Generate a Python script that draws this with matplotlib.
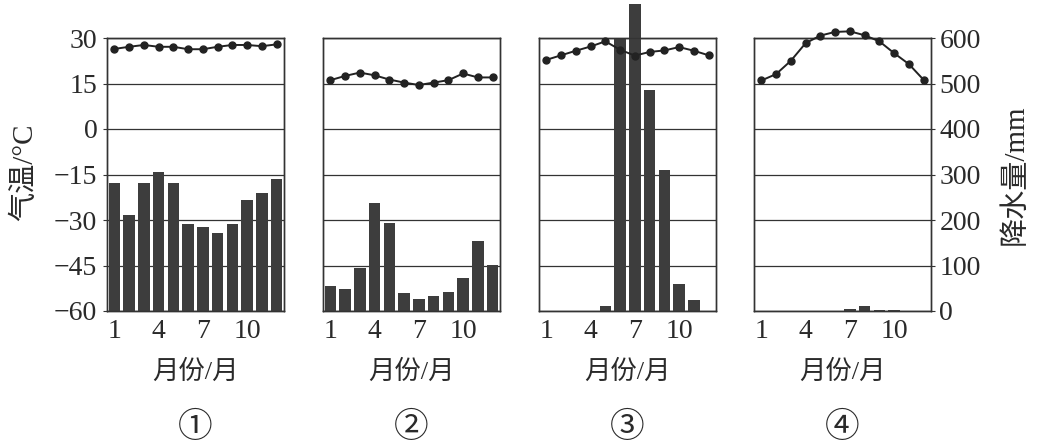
import matplotlib
matplotlib.use("Agg")
import matplotlib.pyplot as plt
import numpy as np

plt.rcParams['font.family'] = ['Liberation Serif', 'Noto Sans CJK SC', 'DejaVu Sans']

months = np.arange(1, 13)
xtick_vals = [1, 4, 7, 10]
temp_ticks = [30, 15, 0, -15, -30, -45, -60]
precip_ticks = [600, 500, 400, 300, 200, 100, 0]

temp_1 = [26.4, 27.1, 27.7, 27.1, 27.1, 26.3, 26.3, 27.1, 27.7, 27.7, 27.3, 27.9]
precip_1 = [282, 211, 282, 306, 282, 192, 185, 171, 192, 245, 259, 290]

temp_2 = [16.1, 17.5, 18.6, 17.7, 16.3, 15.3, 14.5, 15.3, 16.1, 18.3, 17.0, 17.0]
precip_2 = [56, 49, 94, 238, 194, 40, 27, 34, 41, 73, 153, 102]

temp_3 = [22.8, 24.3, 25.8, 27.2, 28.9, 26.1, 24.2, 25.4, 25.9, 27.0, 25.8, 24.3]
precip_3 = [0, 0, 0, 0, 11, 600, 675, 486, 310, 59, 24, 0]

temp_4 = [16.0, 18.1, 22.5, 28.3, 30.8, 32.0, 32.2, 30.9, 28.9, 25.0, 21.4, 16.2]
precip_4 = [0, 0, 0, 0, 0, 0, 5, 11, 3, 3, 0, 0]

panel_labels = ['①', '②', '③', '④']
xlabel = '月份/月'
ylabel_left = '气温/°C'
ylabel_right = '降水量/mm'

temps = [temp_1, temp_2, temp_3, temp_4]
precs = [precip_1, precip_2, precip_3, precip_4]

W, H = 1043, 447
fig = plt.figure(figsize=(W / 100, H / 100), dpi=100)

lefts = [107, 323, 539, 754]
pw, ph = 177, 273
bottom_px = 311
txt_color = '#2a2a2a'
bar_color = '#3d3d3d'
fs = 20

for i in range(4):
    rect = [lefts[i] / W, (H - bottom_px) / H, pw / W, ph / H]
    ax2 = fig.add_axes(rect)  # precipitation (behind)
    ax = ax2.twinx()          # temperature (front)
    ax.yaxis.tick_left()
    ax2.yaxis.tick_right()
    ax.set_zorder(2)
    ax2.set_zorder(1)
    ax.patch.set_visible(False)

    ax2.bar(months, precs[i], width=0.78, color=bar_color, zorder=3, clip_on=False)
    ax2.set_ylim(0, 600)
    ax2.set_yticks(precip_ticks)
    ax2.grid(axis='y', color='#333333', linewidth=0.9, zorder=1)
    ax2.set_axisbelow(True)

    ax.plot(months, temps[i], color='#222222', linewidth=1.4, marker='o',
            markersize=5, clip_on=False, zorder=5)
    ax.set_ylim(-60, 30)
    ax.set_yticks(temp_ticks)
    ax.set_xlim(0.5, 12.5)
    ax2.set_xlim(0.5, 12.5)
    ax2.set_xticks(xtick_vals)
    ax2.set_xticklabels([str(v) for v in xtick_vals], fontsize=fs, color=txt_color)
    ax2.tick_params(axis='x', length=0, pad=6)

    for a in (ax, ax2):
        for s in a.spines.values():
            s.set_color('#333333')
            s.set_linewidth(1.0)

    if i == 0:
        ax.tick_params(axis='y', labelsize=fs, labelcolor=txt_color, length=3,
                       direction='out', pad=4, color='#333333')
    else:
        ax.tick_params(axis='y', left=False, labelleft=False)
    if i == 3:
        ax2.tick_params(axis='y', labelsize=fs, labelcolor=txt_color, length=3,
                        direction='out', pad=3, color='#333333',
                        right=True, labelright=True, left=False, labelleft=False)
    else:
        ax2.tick_params(axis='y', right=False, labelright=False, left=False, labelleft=False)

    cx = (lefts[i] + pw / 2) / W
    fig.text(cx, (H - 372) / H, xlabel, ha='center', va='center', fontsize=19,
             color=txt_color)
    fig.text(cx, (H - 428) / H, panel_labels[i], ha='center', va='center', fontsize=25,
             color=txt_color)

fig.text(25 / W, (H - 172) / H, ylabel_left, rotation=90, ha='center', va='center',
         fontsize=21, color=txt_color)
fig.text(1015 / W, (H - 175) / H, ylabel_right, rotation=90, ha='center', va='center',
         fontsize=21, color=txt_color)

fig.savefig('out.png', dpi=100, facecolor='white')
